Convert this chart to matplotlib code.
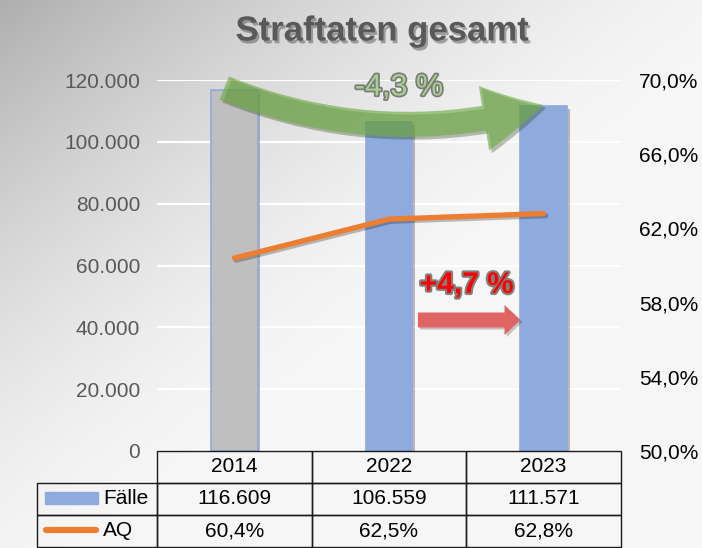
import numpy as np
import matplotlib
matplotlib.use("Agg")
import matplotlib.pyplot as plt
import matplotlib.patheffects as pe
from matplotlib.patches import FancyArrowPatch, Rectangle
from matplotlib.lines import Line2D

plt.rcParams['font.family'] = ['Liberation Sans', 'DejaVu Sans']

# Daten
jahre = ['2014', '2022', '2023']
faelle = [116609, 106559, 111571]
aq = [60.4, 62.5, 62.8]
titel = 'Straftaten gesamt'
label_faelle = 'Fälle'
label_aq = 'AQ'
text_gruen = '-4,3 %'
text_rot = '+4,7 %'

links_ticks = [0, 20000, 40000, 60000, 80000, 100000, 120000]
rechts_ticks = [50, 54, 58, 62, 66, 70]

blau = '#8faadc'
grau_balken = '#bfbfbf'
orange = '#ed7d31'
gruen = '#70ad47'
rot_pfeil = '#df6464'

fig = plt.figure(figsize=(7.02, 5.48), dpi=100)

# Hintergrund mit Verlauf (oben links dunkler)
bg = fig.add_axes([0, 0, 1, 1], zorder=-5)
H, W = 548, 702
yy, xx = np.mgrid[0:H, 0:W]
t = (xx / W + yy / H) / 2
g = 0.965 - 0.28 * (1 - np.clip(t / 0.55, 0, 1)) ** 1.5
bg.imshow(np.dstack([g, g, g]), aspect='auto', extent=[0, 1, 0, 1])
bg.axis('off')

# Achsen: Pixelbereich x 157..621, y 80..451
ax = fig.add_axes([157 / 702, 1 - 451 / 548, 464 / 702, 371 / 548])
ax.set_facecolor('none')
x = np.arange(len(jahre))

schatten = [pe.SimplePatchShadow(offset=(2, -2), shadow_rgbFace='k', alpha=0.25), pe.Normal()]
farben = [grau_balken, blau, blau]
bars = ax.bar(x, faelle, width=0.3, color=farben, edgecolor=blau,
              linewidth=1.2, zorder=3)
for b in bars:
    b.set_path_effects(schatten)

ax.set_xlim(-0.5, 2.5)
ax.set_ylim(0, 120000)
ax.set_yticks(links_ticks)
ax.set_yticklabels([f'{v:,}'.replace(',', '.') for v in links_ticks])
ax.tick_params(axis='y', length=0, pad=12, labelsize=15, labelcolor='#595959')
ax.set_xticks([])
ax.grid(axis='y', color='white', linewidth=1.6, zorder=0)
for s in ax.spines.values():
    s.set_visible(False)

ax2 = ax.twinx()
ax2.set_ylim(50, 70)
ax2.set_yticks(rechts_ticks)
ax2.set_yticklabels([f'{v:.1f}%'.replace('.', ',') for v in rechts_ticks])
ax2.tick_params(axis='y', length=0, pad=13, labelsize=15, labelcolor='black')
for s in ax2.spines.values():
    s.set_visible(False)

ax2.plot(x, aq, color=orange, linewidth=3.8, solid_capstyle='round', zorder=4,
         path_effects=[pe.SimpleLineShadow(offset=(1.5, -1.5), alpha=0.25), pe.Normal()])

# Gruener Bogenpfeil
gp = FancyArrowPatch((-0.065, 117400), (2.0, 111900), transform=ax.transData,
                     connectionstyle='arc3,rad=0.17',
                     arrowstyle='simple,head_length=4.4,head_width=4.7,tail_width=1.8',
                     mutation_scale=10, color=gruen, alpha=0.65, lw=0,
                     shrinkA=0, shrinkB=0, clip_on=False, zorder=6,
                     path_effects=[pe.SimplePatchShadow(offset=(2, -2), alpha=0.3), pe.Normal()])
ax2.add_patch(gp)
ax2.text(1.065, 117600, text_gruen, transform=ax.transData, ha='center', va='center',
         fontsize=22, color='#a9d18e', zorder=7,
         path_effects=[pe.withStroke(linewidth=2.5, foreground='#7a7a7a')])

# Roter Pfeil
rp = FancyArrowPatch((1.187, 42370), (1.85, 42370), transform=ax.transData,
                     arrowstyle='simple,head_length=1.15,head_width=2.16,tail_width=1.08',
                     mutation_scale=10, color=rot_pfeil, lw=0, shrinkA=0, shrinkB=0,
                     zorder=6, path_effects=[pe.SimplePatchShadow(offset=(1.5, -1.5), alpha=0.25), pe.Normal()])
ax2.add_patch(rp)
ax2.text(1.503, 53700, text_rot, transform=ax.transData, ha='center', va='center',
         fontsize=21.5, fontweight='bold', color='#ff0000', zorder=7,
         path_effects=[pe.withStroke(linewidth=3, foreground='#808080')])

# Datentabelle (Werte) unter der Achse: Pixel y 452..547
zeile_h = 32 / 371
zellen = [[f'{v:,}'.replace(',', '.') for v in faelle],
          [f'{v:.1f}%'.replace('.', ',') for v in aq]]
tab = ax.table(cellText=zellen, colLabels=jahre, cellLoc='center',
               bbox=[0, -3 * zeile_h, 1, 3 * zeile_h])
# Zeilenbeschriftung links (Pixel x 37..157), Text direkt hinter dem Symbol
tab_l = ax.table(cellText=[[label_faelle], [label_aq]], cellLoc='left',
                 bbox=[(37 - 157) / 464, -3 * zeile_h, 120 / 464, 2 * zeile_h])
for tb in (tab, tab_l):
    tb.auto_set_font_size(False)
    tb.set_zorder(5)
    for (r, c), cell in tb.get_celld().items():
        cell.set_facecolor('none')
        cell.set_edgecolor('#1a1a1a')
        cell.set_linewidth(1.0)
        cell.get_text().set_fontsize(15)
for cell in tab_l.get_celld().values():
    cell.PAD = 0.55

# Legendensymbole in der Tabelle
ax.add_patch(Rectangle(((45 - 157) / 464, (451 - 504) / 371), 53 / 464, 12 / 371,
                       transform=ax.transAxes, color=blau, clip_on=False, zorder=6))
ax.add_line(Line2D([(46 - 157) / 464, (96 - 157) / 464], [(451 - 530) / 371] * 2,
                   transform=ax.transAxes, color=orange, linewidth=4.5,
                   solid_capstyle='round', clip_on=False, zorder=6))

fig.text(382 / 702, 1 - 31 / 548, titel, ha='center', va='center', fontsize=25,
         fontweight='bold', color='#595959',
         path_effects=[pe.SimplePatchShadow(offset=(1.5, -2), alpha=0.35), pe.Normal()])

fig.savefig('out.png', dpi=100)
